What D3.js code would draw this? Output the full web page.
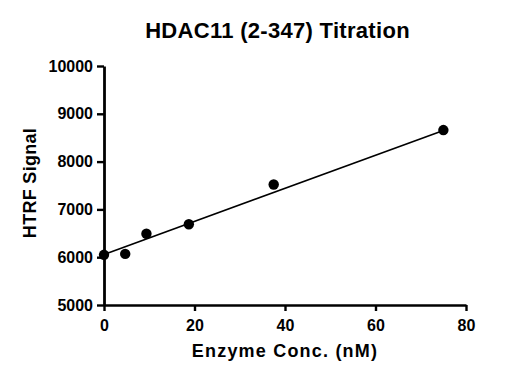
<!DOCTYPE html>
<html>
<head>
<meta charset="utf-8">
<script src="https://cdn.jsdelivr.net/npm/d3@7"></script>
<style>
  html, body { margin: 0; padding: 0; background: #fff; }
  svg { display: block; font-family: "Liberation Sans", Arial, sans-serif; }
</style>
</head>
<body>
<svg id="chart" width="522" height="379"></svg>
<script>
// ---- data ----
const enzymeConc = [0, 4.6875, 9.375, 18.75, 37.5, 75];
const htrfSignal = [6050, 6070, 6490, 6690, 7520, 8660];
const fitX = [0, 75];
const fitY = [6058, 8650];
const xTicks = [0, 20, 40, 60, 80];
const yTicks = [5000, 6000, 7000, 8000, 9000, 10000];
const titleText = "HDAC11 (2-347) Titration";
const xLabel = "Enzyme Conc. (nM)";
const yLabel = "HTRF Signal";

// ---- layout ----
const svg = d3.select("#chart");
const mLeft = 104, mRight = 466, mTop = 66, mBottom = 305;

const x = d3.scaleLinear().domain([0, 80]).range([mLeft, mRight]);
const y = d3.scaleLinear().domain([5000, 10000]).range([mBottom, mTop]);

// x axis
const gx = svg.append("g").attr("transform", `translate(0,${mBottom})`)
  .call(d3.axisBottom(x).tickValues(xTicks).tickFormat(d3.format("d"))
    .tickSize(6).tickPadding(9).tickSizeOuter(0));
gx.select(".domain").attr("stroke", "#000").attr("stroke-width", 2.6);
gx.selectAll(".tick line").attr("stroke", "#000").attr("stroke-width", 2.4);
gx.selectAll(".tick text").attr("fill", "#000").attr("font-size", 16).attr("font-weight", "bold")
  .attr("font-family", "Liberation Sans, Arial, sans-serif");

// y axis
const gy = svg.append("g").attr("transform", `translate(${mLeft},0)`)
  .call(d3.axisLeft(y).tickValues(yTicks).tickFormat(d3.format("d"))
    .tickSize(7).tickPadding(4).tickSizeOuter(0));
gy.select(".domain").attr("stroke", "#000").attr("stroke-width", 2.8);
gy.selectAll(".tick line").attr("stroke", "#000").attr("stroke-width", 2.4);
gy.selectAll(".tick text").attr("fill", "#000").attr("font-size", 16).attr("font-weight", "bold")
  .attr("font-family", "Liberation Sans, Arial, sans-serif");

// fit line
const line = d3.line().x(d => x(d[0])).y(d => y(d[1]));
svg.append("path")
  .datum(fitX.map((v, i) => [v, fitY[i]]))
  .attr("d", line)
  .attr("fill", "none").attr("stroke", "#000").attr("stroke-width", 1.6);

// points
svg.append("g").selectAll("circle")
  .data(enzymeConc.map((v, i) => [v, htrfSignal[i]]))
  .join("circle")
  .attr("cx", d => x(d[0])).attr("cy", d => y(d[1]))
  .attr("r", 5.2).attr("fill", "#000");

// title
svg.append("text").attr("x", 277.5).attr("y", 38)
  .attr("text-anchor", "middle").attr("font-size", 22).attr("font-weight", "bold")
  .attr("letter-spacing", 0.3)
  .text(titleText);

// x label
svg.append("text").attr("x", 285).attr("y", 357)
  .attr("text-anchor", "middle").attr("font-size", 18).attr("font-weight", "bold")
  .attr("letter-spacing", 1.2)
  .text(xLabel);

// y label
svg.append("text")
  .attr("transform", `translate(35.5,${183}) rotate(-90)`)
  .attr("text-anchor", "middle").attr("font-size", 18).attr("font-weight", "bold")
  .attr("letter-spacing", 0.3)
  .text(yLabel);
</script>
</body>
</html>
